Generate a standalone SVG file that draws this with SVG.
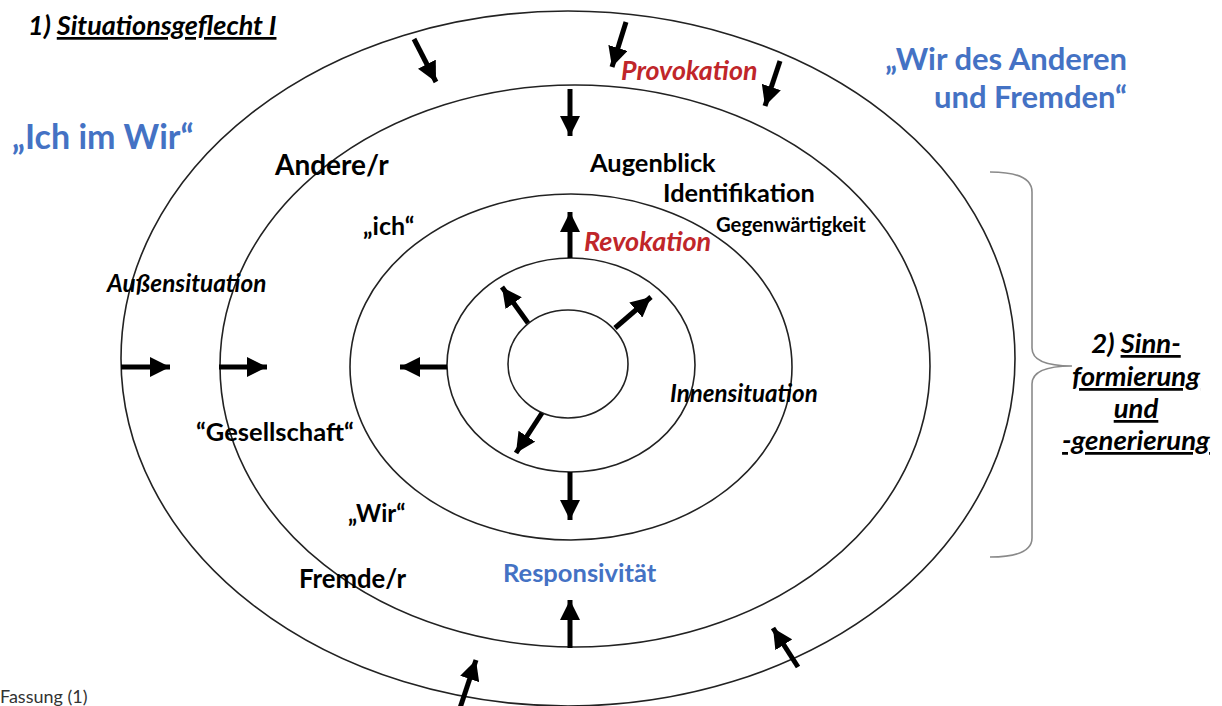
<svg xmlns="http://www.w3.org/2000/svg" width="1222" height="706" viewBox="0 0 1222 706">
<style>
.ring{fill:none;stroke:#222;stroke-width:1.6}
.arr{stroke:#000;stroke-width:5;fill:none;marker-end:url(#head)}
.t{font-family:Lato,"Liberation Sans",sans-serif;font-weight:bold;fill:#000}
.i{font-style:italic}
.blue{fill:#4472C4}
.red{fill:#C0262A}
.u{text-decoration:underline}
</style>
<defs>
<marker id="head" markerUnits="userSpaceOnUse" viewBox="0 0 20 20" refX="20" refY="10" markerWidth="20" markerHeight="20" orient="auto">
<path d="M0,0 L20,10 L0,20 z" fill="#000"/>
</marker>
</defs>
<rect width="1222" height="706" fill="#fff"/>
<g id="rings">
<ellipse id="ring1" class="ring" cx="568" cy="358.5" rx="447" ry="347.5"/>
<ellipse id="ring2" class="ring" cx="575" cy="366" rx="355" ry="281"/>
<ellipse id="ring3" class="ring" cx="571" cy="367" rx="221" ry="173"/>
<ellipse id="ring4" class="ring" cx="571" cy="365" rx="124" ry="107"/>
<ellipse id="ring5" class="ring" cx="568" cy="364" rx="60" ry="54"/>
</g>
<g id="connectors">
<line class="arr" x1="414" y1="39" x2="436" y2="82"/>
<line class="arr" x1="626" y1="22" x2="612" y2="67"/>
<line class="arr" x1="780" y1="61" x2="765" y2="106"/>
<line class="arr" x1="570" y1="89" x2="570" y2="136"/>
<line class="arr" x1="121" y1="367" x2="170" y2="367"/>
<line class="arr" x1="219" y1="367" x2="267" y2="367"/>
<line class="arr" x1="447" y1="367" x2="400" y2="367"/>
<line class="arr" x1="570" y1="258" x2="570" y2="212"/>
<line class="arr" x1="528" y1="323" x2="502" y2="287"/>
<line class="arr" x1="615" y1="328" x2="651" y2="297"/>
<line class="arr" x1="542" y1="413" x2="516" y2="453"/>
<line class="arr" x1="570" y1="472" x2="570" y2="520"/>
<line class="arr" x1="570" y1="648" x2="570" y2="600"/>
<line class="arr" x1="460" y1="708" x2="476" y2="660"/>
<line class="arr" x1="798" y1="667" x2="773" y2="628"/>
</g>
<g id="brace">
<path d="M990,172 Q1032,172 1032,192 L1032,348 Q1032,366 1072,366 Q1032,366 1032,384 L1032,538 Q1032,557 990,557" fill="none" stroke="#8a8a8a" stroke-width="1.6"/>
</g>
<g id="title">
<text class="t i" x="28" y="35" font-size="27">1) <tspan class="u">Situationsgeflecht I</tspan></text>
</g>
<g id="ich-im-wir"><text class="t blue" x="12" y="149" font-size="34">„Ich im Wir“</text></g>
<g id="wir-des-anderen">
<text class="t blue" x="1127" y="70" font-size="31" text-anchor="end">„Wir des Anderen</text>
<text class="t blue" x="1127" y="108" font-size="31" text-anchor="end">und Fremden“</text>
</g>
<g id="provokation"><text class="t i red" x="621" y="80" font-size="26.8">Provokation</text></g>
<g id="andere"><text class="t" x="275" y="175" font-size="28">Andere/r</text></g>
<g id="augenblick"><text class="t" x="590" y="172" font-size="25.4">Augenblick</text></g>
<g id="identifikation"><text class="t" x="663" y="202" font-size="25.3">Identifikation</text></g>
<g id="gegenwaertigkeit"><text class="t" x="716" y="232" font-size="20.3">Gegenwärtigkeit</text></g>
<g id="ich"><text class="t" x="363" y="235" font-size="25">„ich“</text></g>
<g id="revokation"><text class="t i red" x="584" y="251" font-size="27">Revokation</text></g>
<g id="aussensituation"><text class="t i" x="107" y="292" font-size="24.3">Außensituation</text></g>
<g id="innensituation"><text class="t i" x="670" y="402" font-size="24.1">Innensituation</text></g>
<g id="gesellschaft"><text class="t" x="196" y="441" font-size="25.5">“Gesellschaft“</text></g>
<g id="wir"><text class="t" x="348" y="522" font-size="24">„Wir“</text></g>
<g id="fremde"><text class="t" x="299" y="588" font-size="25.7">Fremde/r</text></g>
<g id="responsivitaet"><text class="t blue" x="503" y="582" font-size="25.5">Responsivität</text></g>
<g id="fassung"><text x="0" y="703" font-family="Lato,'Liberation Sans',sans-serif" font-size="18" fill="#333">Fassung (1)</text></g>
<g id="sinn" text-anchor="middle">
<text class="t i" x="1136" y="353" font-size="27.5">2) <tspan class="u">Sinn-</tspan></text>
<text class="t i u" x="1136" y="386" font-size="27.5">formierung</text>
<text class="t i u" x="1136" y="418" font-size="27.5">und</text>
<text class="t i u" x="1136" y="450" font-size="27.5">-generierung</text>
</g>
</svg>
